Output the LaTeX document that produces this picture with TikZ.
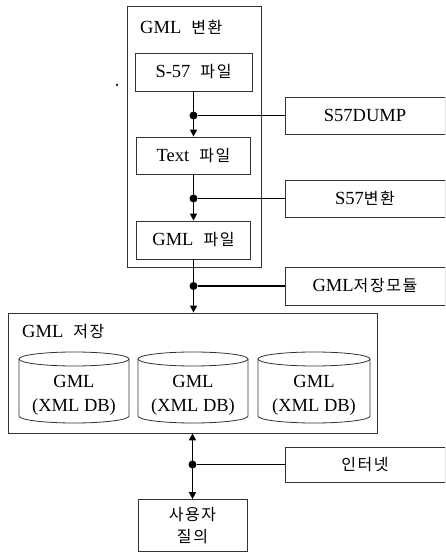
\documentclass[tikz,border=0pt]{standalone}
\usepackage{fontspec}
\setmainfont{Liberation Serif}
\newfontfamily\kr{Noto Sans CJK KR}[LetterSpace=10]
\newcommand{\ko}[1]{{\kr\fontsize{16}{24}\selectfont #1}}
\newcommand{\gap}{\hspace{10pt}}
\usetikzlibrary{arrows.meta}

\begin{document}
\begin{tikzpicture}[x=1pt,y=1pt,
  box/.style={draw=black!80, line width=0.8pt, inner sep=0pt},
  txt/.style={inner sep=0pt, font=\fontsize{18.5}{24}\selectfont},
  link/.style={line width=1.5pt},
  arr/.style={link, -{Triangle[length=7pt,width=7pt]}},
  jdot/.style={circle, fill, inner sep=0pt, minimum size=8pt},
]
\useasboundingbox (0,0) rectangle (445,552);
\clip (0,0) rectangle (445,552);

% conversion stage
\node[box, minimum width=134, minimum height=261] (conv) at (194,415.5) {};
\node[txt, anchor=west] (convlbl) at (140,525) {GML\gap\ko{변환}};
\node[box, txt, minimum width=117, minimum height=38] (s57) at (193.5,480) {S-57\gap\ko{파일}};
\node[box, txt, minimum width=114, minimum height=37] (textf) at (193.5,396.5) {Text\gap\ko{파일}};
\node[box, txt, minimum width=114, minimum height=38] (gmlf) at (193.5,312) {GML\gap\ko{파일}};

% tools on the right
\node[box, txt, minimum width=160, minimum height=37] (dump) at (365,436.5) {S57DUMP};
\node[box, txt, minimum width=160, minimum height=37] (s57conv) at (365,353.5) {S57\ko{변환}};
\node[box, txt, minimum width=160, minimum height=38] (module) at (365,266) {GML\ko{저장모듈}};
\node[box, txt, minimum width=160, minimum height=35] (net) at (365,87.5) {\ko{인터넷}};

% storage stage
\node[box, minimum width=369, minimum height=120] (store) at (192.5,179) {};
\node[txt, anchor=west] (storelbl) at (22,220) {GML\gap\ko{저장}};
\foreach \cx/\a/\nm in {74/55/db1, 193/55/db2, 314/56/db3} {
  \draw[box] ({\cx-\a},193) -- ({\cx-\a},136)
    arc[start angle=180, end angle=360, x radius=\a, y radius=7] -- ({\cx+\a},193);
  \draw[box] (\cx,193) ellipse[x radius=\a, y radius=7];
  \node[txt, align=center] (\nm) at (\cx,157) {GML\\(XML DB)};
}

% user query
\node[box, txt, align=center, minimum width=109, minimum height=52, font=\kr\fontsize{16}{22}\selectfont] (user) at (192.5,26.5) {사용자\\질의};

% flow
\draw[arr] (s57.south) -- (textf.north);
\draw[arr] (textf.south) -- (gmlf.north);
\draw[arr] (gmlf.south) -- (gmlf.south |- store.north);
\draw[link, {Triangle[length=7pt,width=7pt]}-{Triangle[length=7pt,width=7pt]}] (user.north |- store.south) -- (user.north);

% junctions to the tools
\node[jdot] (j1) at (dump.west -| s57.south) {};
\node[jdot] (j2) at (s57conv.west -| textf.south) {};
\node[jdot] (j3) at (module.west -| gmlf.south) {};
\node[jdot] (j4) at (net.west -| user.north) {};
\draw[link] (j1) -- (dump.west);
\draw[link] (j2) -- (s57conv.west);
\draw[link] (j3) -- (module.west);
\draw[link] (j4) -- (net.west);

\node[circle, fill, inner sep=0pt, minimum size=2.5pt] (speck) at (117,467) {};
\end{tikzpicture}
\end{document}
